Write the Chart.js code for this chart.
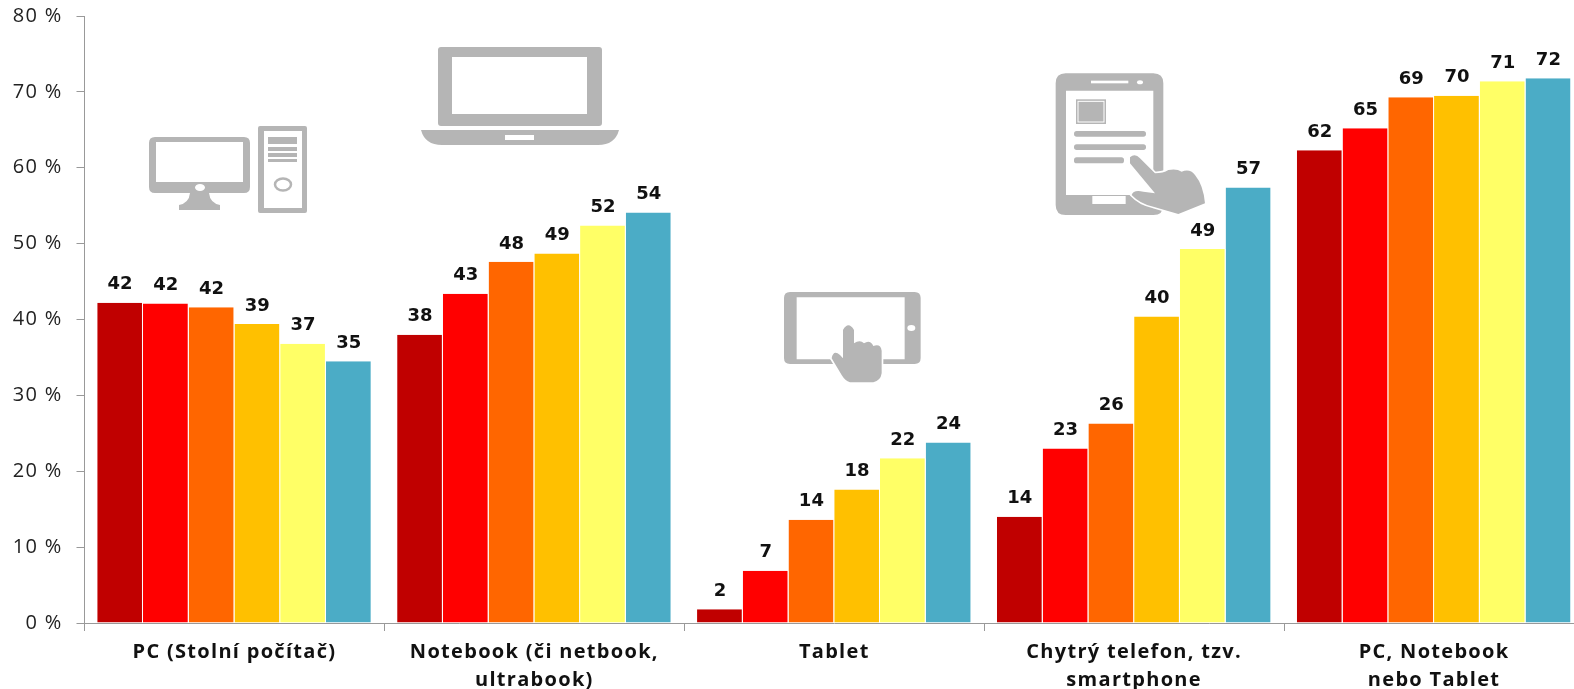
<!DOCTYPE html>
<html>
<head>
<meta charset="utf-8">
<script src="https://cdn.jsdelivr.net/npm/chart.js@4"></script>
<style>
  html, body { margin: 0; padding: 0; background: #fff; width: 1574px; height: 689px; overflow: hidden; }
  #wrap { position: relative; width: 1574px; height: 689px; overflow: hidden; }
  canvas { position: absolute; left: 0; top: 0; }
  svg { position: absolute; left: 0; top: 0; }
</style>
</head>
<body>
<div id="wrap">
  <canvas id="grafPC" width="1584" height="689"></canvas>
  <svg width="1574" height="689" fill="#b5b5b5">
    <!-- stolni pocitac -->
    <path fill-rule="evenodd" d="M155 137H244Q250 137 250 143V187Q250 193 244 193H209Q210 203 220 205V210H179V205Q189 203 190 193H155Q149 193 149 187V143Q149 137 155 137ZM156 142V182H243V142Z"/>
    <ellipse cx="200" cy="187.500" rx="5" ry="3.500" fill="#fff"/>
    <path fill-rule="evenodd" d="M258 128Q258 126 260 126H305Q307 126 307 128V211Q307 213 305 213H260Q258 213 258 211ZM264 131V208H302V131Z"/>
    <rect x="268" y="137" width="29" height="7"/>
    <rect x="268" y="147" width="29" height="4"/>
    <rect x="268" y="153" width="29" height="4"/>
    <rect x="268" y="159" width="29" height="3"/>
    <ellipse cx="283" cy="184.500" rx="8" ry="6" fill="none" stroke="#b5b5b5" stroke-width="2.500"/>
    <!-- notebook -->
    <path fill-rule="evenodd" d="M441 47H599Q602 47 602 50V123Q602 126 599 126H441Q438 126 438 123V50Q438 47 441 47ZM452 57V114H587V57Z"/>
    <path fill-rule="evenodd" d="M421 130H619Q615 145 598 145H442Q425 145 421 130ZM505 135V140H534V135Z"/>
    <!-- tablet -->
    <g transform="translate(770 280) scale(0.3333)">
      <path fill-rule="evenodd" d="M60 36H434Q452 36 452 54V234Q452 252 434 252H60Q42 252 42 234V54Q42 36 60 36ZM80 52V238H404V52Z"/>
      <ellipse cx="424" cy="144" rx="12" ry="9" fill="#fff"/>
      <path stroke="#fff" stroke-width="10" paint-order="stroke" d="M219 150Q235 122 252 150V190Q270 178 282 190Q300 178 310 198Q332 190 335 212V280Q332 302 310 307H240Q225 302 215 285L185 235Q190 208 210 225L219 235Z"/>
    </g>
    <!-- chytry telefon -->
    <g transform="translate(1040 60) scale(0.3333)">
      <path fill-rule="evenodd" d="M77 40H340Q370 40 370 70V435Q370 465 340 465H77Q47 465 47 435V70Q47 40 77 40ZM78 92V405H340V92Z"/>
      <rect x="153" y="62" width="112" height="8" fill="#fff"/>
      <ellipse cx="300" cy="67" rx="9" ry="6" fill="#fff"/>
      <rect x="157" y="408" width="100" height="24" fill="#fff"/>
      <rect x="108" y="118" width="90" height="74"/>
      <rect x="114" y="124" width="78" height="62" fill="none" stroke="#fff" stroke-width="3"/>
      <rect x="102" y="213" width="216" height="17" rx="8"/>
      <rect x="102" y="253" width="216" height="17" rx="8"/>
      <rect x="102" y="292" width="150" height="18" rx="8"/>
      <path stroke="#fff" stroke-width="10" paint-order="stroke" d="M270 292Q285 278 300 295L345 340Q370 340 385 330Q410 325 425 335Q450 325 465 345Q490 375 495 430L415 462L340 440Q300 432 275 405Q280 388 310 395L345 400L270 310Z"/>
    </g>
  </svg>
</div>
<script>
const kategorie = ["PC (Stolní počítač)", ["Notebook (či netbook,", "ultrabook)"], "Tablet", ["Chytrý telefon, tzv.", "smartphone"], ["PC, Notebook", "nebo Tablet"]];
const rada1 = [42.2, 38.0, 1.8, 14.0, 62.3];
const rada2 = [42.1, 43.4, 6.9, 23.0, 65.2];
const rada3 = [41.6, 47.6, 13.6, 26.3, 69.3];
const rada4 = [39.4, 48.7, 17.6, 40.4, 69.5];
const rada5 = [36.8, 52.4, 21.7, 49.3, 71.4];
const rada6 = [34.5, 54.1, 23.8, 57.4, 71.8];
const barvy = ["#c00000", "#ff0000", "#ff6600", "#ffc000", "#ffff66", "#4bacc6"];

// popisky nad sloupci
const popisky = {
  id: "popisky",
  beforeDraw(chart) {
    // texty os jsou v originale roztazene
    chart.ctx.letterSpacing = "1.3px";
  },
  afterDatasetsDraw(chart) {
    const c = chart.ctx;
    c.save();
    c.letterSpacing = "0px";
    c.font = "bold 18px 'DejaVu Sans'";
    c.fillStyle = "#111";
    c.textAlign = "center";
    c.textBaseline = "middle";
    chart.data.datasets.forEach((ds, i) => {
      chart.getDatasetMeta(i).data.forEach((bar, j) => {
        c.fillText(Math.round(ds.data[j]), bar.x, bar.y - 18);
      });
    });
    c.restore();
  }
};

new Chart(document.getElementById("grafPC"), {
  type: "bar",
  data: {
    labels: kategorie,
    datasets: [rada1, rada2, rada3, rada4, rada5, rada6].map((data, i) => ({
      label: "rada " + (i + 1),
      data: data,
      backgroundColor: barvy[i],
      borderColor: "#fff",
      borderWidth: { right: 1 },
      categoryPercentage: 0.915,
      barPercentage: 1
    }))
  },
  options: {
    responsive: false,
    animation: false,
    layout: { padding: { top: 16, left: 0, right: 0, bottom: 0 } },
    plugins: { legend: { display: false }, tooltip: { enabled: false } },
    scales: {
      x: {
        afterFit: (s) => { s.height = 66; },
        grid: { drawOnChartArea: false, color: "#999", tickLength: 8 },
        border: { color: "#999" },
        ticks: {
          color: "#111",
          padding: 7,
          maxRotation: 0,
          autoSkip: false,
          font: { family: "'Open Sans'", weight: "bold", size: 20, lineHeight: 1.42 }
        }
      },
      y: {
        min: 0,
        max: 80,
        afterFit: (s) => { s.width = 84.5; s.paddingTop = 0; s.paddingBottom = 0; },
        grid: { drawOnChartArea: false, color: "#999", tickLength: 8 },
        border: { color: "#999" },
        ticks: {
          stepSize: 10,
          color: "#222",
          padding: 14,
          font: { family: "'Open Sans'", size: 20 },
          callback: (v) => v + " %"
        }
      }
    }
  },
  plugins: [popisky]
});
</script>
</body>
</html>
